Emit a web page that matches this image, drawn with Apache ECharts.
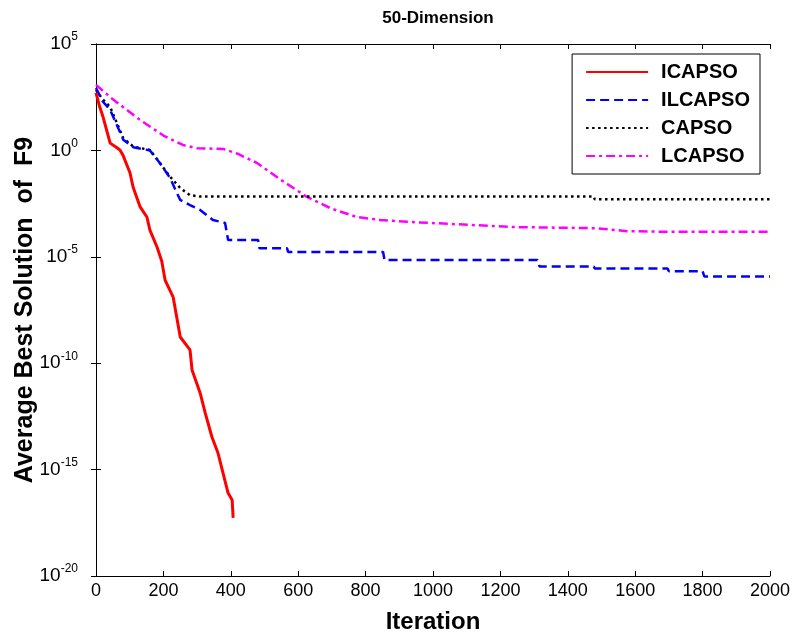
<!DOCTYPE html>
<html>
<head>
<meta charset="utf-8">
<script src="https://cdn.jsdelivr.net/npm/echarts@6/dist/echarts.min.js"></script>
<style>
  html, body { margin: 0; padding: 0; background: #fff; }
  #chart { width: 794px; height: 638px; }
</style>
</head>
<body>
<div id="chart"></div>
<script>
// 数据
const xTicks = [0, 200, 400, 600, 800, 1000, 1200, 1400, 1600, 1800, 2000];

const icapsoX = [0, 10, 21, 42, 60, 71, 80, 101, 110, 131, 151, 160, 181, 195, 205, 229, 250, 279, 285, 309, 324, 344, 362, 377, 392, 404, 407];
const icapsoY = [500, 126, 37, 2.2, 1.4, 1.05, 0.6, 0.087, 0.019, 2.2e-3, 7.4e-4, 1.8e-4, 2.9e-5, 6.3e-6, 8.1e-7, 1.26e-7, 1.7e-9, 4.2e-10, 4.8e-11, 4e-12, 4.6e-13, 3.4e-14, 6e-15, 6.9e-16, 7.9e-17, 3.7e-17, 5.4e-18];

const ilcapsoX = [0, 20, 42, 81, 111, 160, 190, 220, 240, 250, 279, 309, 347, 383, 392, 481, 485, 567, 570, 852, 856, 1310, 1316, 1477, 1480, 1696, 1700, 1800, 1805, 2000];
const ilcapsoY = [850, 200, 80, 3.2, 1.4, 1.0, 0.25, 0.05, 0.01, 4.7e-3, 2.7e-3, 1.6e-3, 5.4e-4, 3.9e-4, 6.2e-5, 6.2e-5, 2.5e-5, 2.5e-5, 1.7e-5, 1.7e-5, 7.1e-6, 7.1e-6, 3.5e-6, 3.5e-6, 2.8e-6, 2.8e-6, 2.1e-6, 2.1e-6, 1.2e-6, 1.2e-6];

const capsoX = [0, 20, 42, 81, 111, 160, 190, 220, 250, 279, 309, 1477, 1480, 2000];
const capsoY = [690, 250, 110, 3.7, 1.5, 1.05, 0.25, 0.058, 0.017, 7.9e-3, 6.8e-3, 6.8e-3, 5e-3, 5e-3];

const lcapsoX = [0, 50, 131, 200, 258, 300, 378, 420, 477, 550, 626, 700, 774, 843, 923, 992, 1239, 1487, 1576, 1695, 2000];
const lcapsoY = [1200, 250, 27, 5, 1.8, 1.26, 1.17, 0.7, 0.26, 0.04, 6.5e-3, 1.8e-3, 7.4e-4, 5.4e-4, 4.4e-4, 3.9e-4, 2.5e-4, 2.2e-4, 1.6e-4, 1.5e-4, 1.5e-4];

function pairs(xs, ys) {
    return xs.map((x, i) => [x, ys[i]]);
}

const FONT = 'Liberation Sans, Arial, sans-serif';

// 对数坐标刻度标签：10 的上标形式
function powLabel(value) {
    const e = Math.round(Math.log10(value));
    return '{b|10}{s|' + e + '}';
}

const chart = echarts.init(document.getElementById('chart'));

const baseAxis = {
    axisLine: { show: true, lineStyle: { color: '#000', width: 1 } },
    axisTick: { show: true, inside: true, length: 5, lineStyle: { color: '#000' } },
    splitLine: { show: false }
};

const option = {
    animation: false,
    backgroundColor: '#fff',
    title: {
        text: '50-Dimension',
        left: 433,
        textAlign: 'center',
        top: 5,
        textStyle: { fontFamily: FONT, fontSize: 17, fontWeight: 'bold', color: '#000' }
    },
    legend: {
        right: 34,
        top: 54,
        orient: 'vertical',
        itemWidth: 62,
        itemHeight: 14,
        itemGap: 8,
        padding: [8, 10, 8, 13],
        borderColor: '#000',
        borderWidth: 1,
        backgroundColor: '#fff',
        itemStyle: { opacity: 0 },
        textStyle: { fontFamily: FONT, fontSize: 20, fontWeight: 'bold', color: '#000', padding: [0, 0, 0, 8] },
        data: ['ICAPSO', 'ILCAPSO', 'CAPSO', 'LCAPSO']
    },
    grid: { left: 96, right: 24, top: 44, bottom: 62, outerBoundsMode: 'none', containLabel: false },
    xAxis: [
        Object.assign({}, baseAxis, {
            type: 'value',
            min: 0,
            max: 2000,
            interval: 200,
            name: 'Iteration',
            nameLocation: 'middle',
            nameGap: 34,
            nameTextStyle: { fontFamily: FONT, fontSize: 24, fontWeight: 'bold', color: '#000' },
            axisLabel: { fontFamily: FONT, fontSize: 18, color: '#000', margin: 6,
                formatter: v => xTicks.indexOf(v) >= 0 ? String(v) : '' }
        }),
        Object.assign({}, baseAxis, {
            type: 'value', position: 'top', min: 0, max: 2000, interval: 200,
            axisLabel: { show: false }
        })
    ],
    yAxis: [
        Object.assign({}, baseAxis, {
            type: 'log',
            logBase: 10,
            min: 1e-20,
            max: 1e5,
            interval: 5,
            name: 'Average Best Solution  of  F9',
            nameLocation: 'middle',
            nameGap: 58,
            nameMoveOverlap: false,
            nameTextStyle: { fontFamily: FONT, fontSize: 25, fontWeight: 'bold', color: '#000' },
            axisLabel: {
                margin: 18,
                formatter: powLabel,
                rich: {
                    b: { fontFamily: FONT, fontSize: 19, color: '#000' },
                    s: { fontFamily: FONT, fontSize: 12, color: '#000', verticalAlign: 'top', padding: [0, 0, 14, 0] }
                }
            }
        }),
        Object.assign({}, baseAxis, {
            type: 'log', logBase: 10, position: 'right', min: 1e-20, max: 1e5, interval: 5,
            axisLabel: { show: false }
        })
    ],
    series: [
        {
            name: 'ICAPSO', type: 'line', showSymbol: false, symbol: 'none',
            color: '#ff0000',
            lineStyle: { color: '#ff0000', width: 3 },
            data: pairs(icapsoX, icapsoY), z: 5
        },
        {
            name: 'ILCAPSO', type: 'line', showSymbol: false, symbol: 'none',
            color: '#0000ff',
            lineStyle: { color: '#0000ff', width: 2.5, type: [9, 5] },
            data: pairs(ilcapsoX, ilcapsoY), z: 4
        },
        {
            name: 'CAPSO', type: 'line', showSymbol: false, symbol: 'none',
            color: '#000000',
            lineStyle: { color: '#000000', width: 2.5, type: [2.5, 3.5] },
            data: pairs(capsoX, capsoY), z: 3
        },
        {
            name: 'LCAPSO', type: 'line', showSymbol: false, symbol: 'none',
            color: '#ff00ff',
            lineStyle: { color: '#ff00ff', width: 2.5, type: [9, 4, 3, 4] },
            data: pairs(lcapsoX, lcapsoY), z: 2
        }
    ]
};

chart.setOption(option);
</script>
</body>
</html>
